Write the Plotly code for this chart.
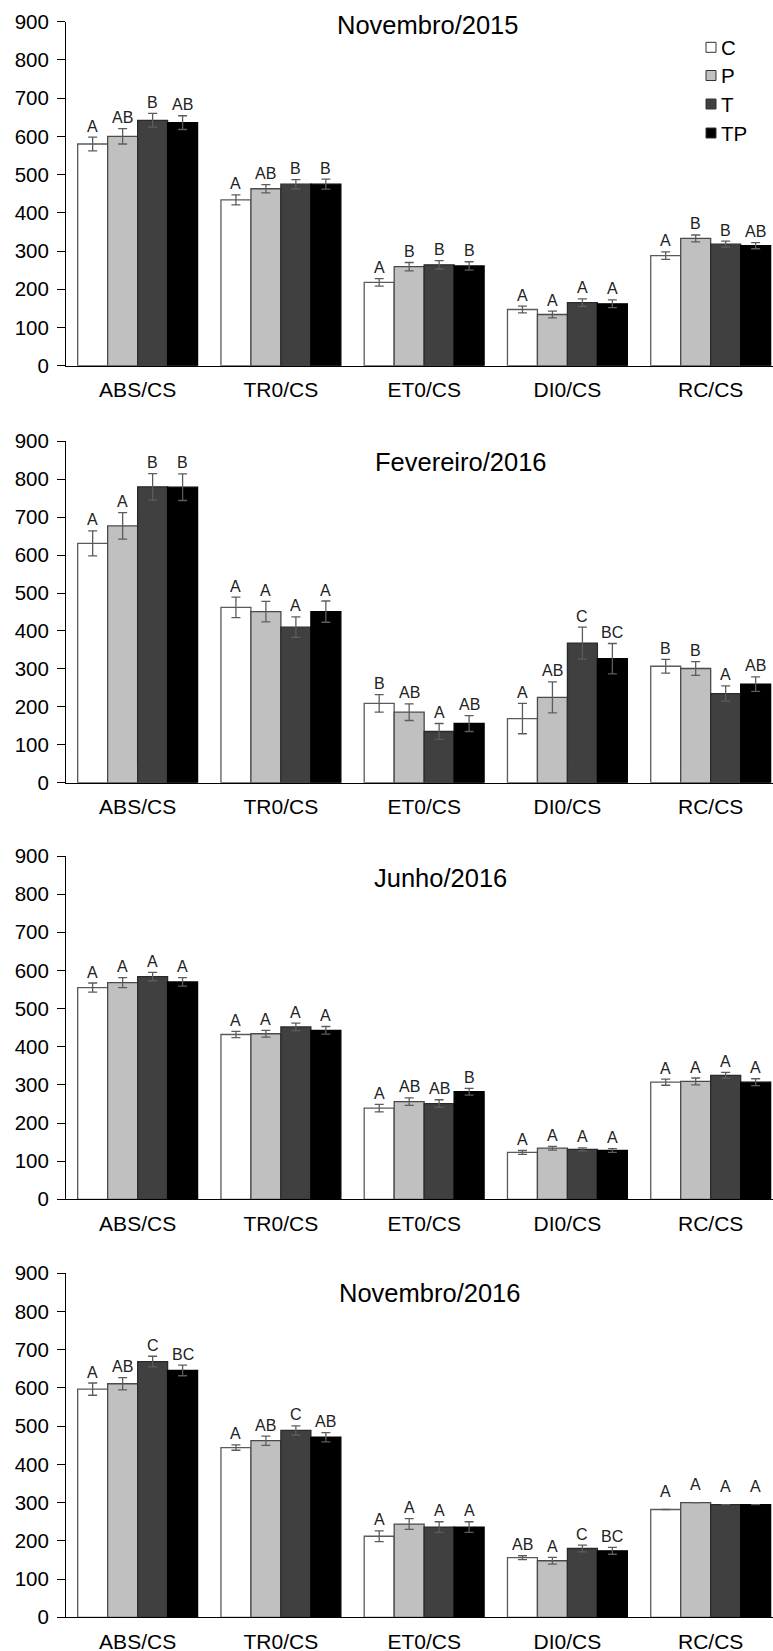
import plotly.graph_objects as go
from plotly.subplots import make_subplots

W, H = 773, 1651

categories = ["ABS/CS", "TR0/CS", "ET0/CS", "DI0/CS", "RC/CS"]
series = ["C", "P", "T", "TP"]
titles = ["Novembro/2015", "Fevereiro/2016", "Junho/2016", "Novembro/2016"]

# ---- Novembro/2015 ----
nov15_C = [580, 434, 218, 147, 288]
nov15_P = [600, 463, 259, 134, 333]
nov15_T = [642, 475, 264, 165, 318]
nov15_TP = [636, 475, 261, 162, 314]
nov15_err_C = [18, 13, 10, 9, 10]
nov15_err_P = [20, 11, 11, 9, 9]
nov15_err_T = [18, 12, 11, 10, 8]
nov15_err_TP = [18, 13, 11, 10, 8]
nov15_let_C = ["A", "A", "A", "A", "A"]
nov15_let_P = ["AB", "AB", "B", "A", "B"]
nov15_let_T = ["B", "B", "B", "A", "B"]
nov15_let_TP = ["AB", "B", "B", "A", "AB"]

# ---- Fevereiro/2016 ----
fev16_C = [631, 462, 209, 169, 307]
fev16_P = [677, 451, 186, 225, 301]
fev16_T = [780, 410, 135, 368, 235]
fev16_TP = [779, 451, 156, 327, 260]
fev16_err_C = [33, 27, 23, 40, 18]
fev16_err_P = [35, 27, 22, 41, 18]
fev16_err_T = [35, 27, 21, 42, 20]
fev16_err_TP = [35, 28, 21, 40, 19]
fev16_let_C = ["A", "A", "B", "A", "B"]
fev16_let_P = ["A", "A", "AB", "AB", "B"]
fev16_let_T = ["B", "A", "A", "C", "A"]
fev16_let_TP = ["B", "A", "AB", "BC", "AB"]

# ---- Junho/2016 ----
jun16_C = [555, 432, 239, 123, 307]
jun16_P = [568, 434, 256, 134, 309]
jun16_T = [584, 452, 251, 131, 325]
jun16_TP = [570, 443, 282, 128, 307]
jun16_err_C = [12, 8, 10, 5, 8]
jun16_err_P = [13, 9, 10, 5, 9]
jun16_err_T = [11, 10, 10, 4, 8]
jun16_err_TP = [11, 10, 9, 5, 9]
jun16_let_C = ["A", "A", "A", "A", "A"]
jun16_let_P = ["A", "A", "AB", "A", "A"]
jun16_let_T = ["A", "A", "AB", "A", "A"]
jun16_let_TP = ["A", "A", "B", "A", "A"]

# ---- Novembro/2016 ----
nov16_C = [597, 444, 212, 156, 282]
nov16_P = [611, 462, 244, 148, 300]
nov16_T = [669, 489, 236, 180, 295]
nov16_TP = [646, 471, 236, 174, 295]
nov16_err_C = [16, 7, 14, 5, 0]
nov16_err_P = [16, 12, 14, 9, 0]
nov16_err_T = [14, 12, 14, 9, 0]
nov16_err_TP = [14, 12, 14, 9, 0]
nov16_let_C = ["A", "A", "A", "AB", "A"]
nov16_let_P = ["AB", "AB", "A", "A", "A"]
nov16_let_T = ["C", "C", "A", "C", "A"]
nov16_let_TP = ["BC", "AB", "A", "BC", "A"]

panels = [
    (titles[0], [nov15_C, nov15_P, nov15_T, nov15_TP],
     [nov15_err_C, nov15_err_P, nov15_err_T, nov15_err_TP],
     [nov15_let_C, nov15_let_P, nov15_let_T, nov15_let_TP]),
    (titles[1], [fev16_C, fev16_P, fev16_T, fev16_TP],
     [fev16_err_C, fev16_err_P, fev16_err_T, fev16_err_TP],
     [fev16_let_C, fev16_let_P, fev16_let_T, fev16_let_TP]),
    (titles[2], [jun16_C, jun16_P, jun16_T, jun16_TP],
     [jun16_err_C, jun16_err_P, jun16_err_T, jun16_err_TP],
     [jun16_let_C, jun16_let_P, jun16_let_T, jun16_let_TP]),
    (titles[3], [nov16_C, nov16_P, nov16_T, nov16_TP],
     [nov16_err_C, nov16_err_P, nov16_err_T, nov16_err_TP],
     [nov16_let_C, nov16_let_P, nov16_let_T, nov16_let_TP]),
]

fills = ["#ffffff", "#c0c0c0", "#404040", "#000000"]
outlines = ["#5a5a5a", "#4a4a4a", "#2a2a2a", "#000000"]
ERR_COLOR = "#5c5c5c"
FONT = "Arial, Liberation Sans, sans-serif"

# layout geometry (pixels)
plot_left = 66
panel_px = [(21.7, 365.7), (441.3, 782.7), (856.0, 1199.3), (1273.3, 1617.3)]
title_px = [(427.5, 25.0), (460.5, 461.7), (440.0, 878.3), (429.5, 1293.3)]
BARGAP = 0.163
XRANGE = [-0.5, 4.435]


def py(p):
    return 1 - p / H


def px(p):
    return p / W


fig = make_subplots(rows=4, cols=1)
annotations = []
bar_w = (1 - BARGAP) / len(series)

for i, (title, vals, errs, lets) in enumerate(panels):
    r = i + 1
    for j, s in enumerate(series):
        fig.add_trace(
            go.Bar(
                x=categories, y=vals[j], name=s, showlegend=False,
                marker=dict(color=fills[j], line=dict(color=outlines[j], width=1.3)),
                error_y=dict(type="data", array=errs[j], visible=True,
                             color=ERR_COLOR, thickness=1.3, width=4.5),
            ),
            row=r, col=1,
        )
        xref = "x" if r == 1 else f"x{r}"
        yref = "y" if r == 1 else f"y{r}"
        for k in range(len(categories)):
            annotations.append(dict(
                x=k + (j - 1.5) * bar_w, y=vals[j][k] + errs[j][k],
                xref=xref, yref=yref, text=lets[j][k], showarrow=False,
                xanchor="center", yanchor="middle",
                yshift=11 if errs[j][k] > 0 else 18,
                font=dict(size=16, color="#222222", family=FONT),
            ))
    top, bot = panel_px[i]
    fig.update_xaxes(
        row=r, col=1, domain=[px(plot_left), 1], range=XRANGE,
        showline=True, linecolor="#000000", linewidth=1, ticks="",
        showgrid=False, zeroline=False, automargin=False,
        tickfont=dict(size=21, color="#000000", family=FONT),
        ticklabelstandoff=5,
    )
    fig.update_yaxes(
        row=r, col=1, domain=[py(bot), py(top)], range=[0, 900],
        tick0=0, dtick=100, showline=True, linecolor="#000000", linewidth=1,
        ticks="outside", ticklen=8, tickcolor="#000000", tickwidth=1,
        showgrid=False, zeroline=False, automargin=False,
        tickfont=dict(size=20.5, color="#000000", family=FONT),
        ticklabelstandoff=4,
    )
    tx, ty = title_px[i]
    annotations.append(dict(
        x=px(tx), y=py(ty), xref="paper", yref="paper", text=title,
        showarrow=False, xanchor="center", yanchor="middle",
        font=dict(size=25.5, color="#000000", family=FONT),
    ))

# legend (top-right of first panel)
shapes = []
legend_y = [47.3, 75.5, 104.0, 133.0]
for j, s in enumerate(series):
    cy = legend_y[j]
    shapes.append(dict(
        type="rect", xref="paper", yref="paper",
        x0=px(706), x1=px(716), y0=py(cy + 5), y1=py(cy - 5),
        fillcolor=fills[j], line=dict(color="#333333", width=1),
    ))
    annotations.append(dict(
        x=px(719), y=py(cy), xref="paper", yref="paper", text=s,
        showarrow=False, xanchor="left", yanchor="middle",
        font=dict(size=20.5, color="#000000", family=FONT),
    ))

fig.update_layout(
    template="none",
    width=W, height=H,
    margin=dict(l=0, r=0, t=0, b=0),
    paper_bgcolor="#ffffff", plot_bgcolor="#ffffff",
    barmode="group", bargap=BARGAP, bargroupgap=0,
    font=dict(family=FONT, color="#000000"),
    showlegend=False,
    annotations=annotations,
    shapes=shapes,
)

fig.write_html("out.html", config={"displayModeBar": False},
               post_script="document.body.style.margin='0';")
